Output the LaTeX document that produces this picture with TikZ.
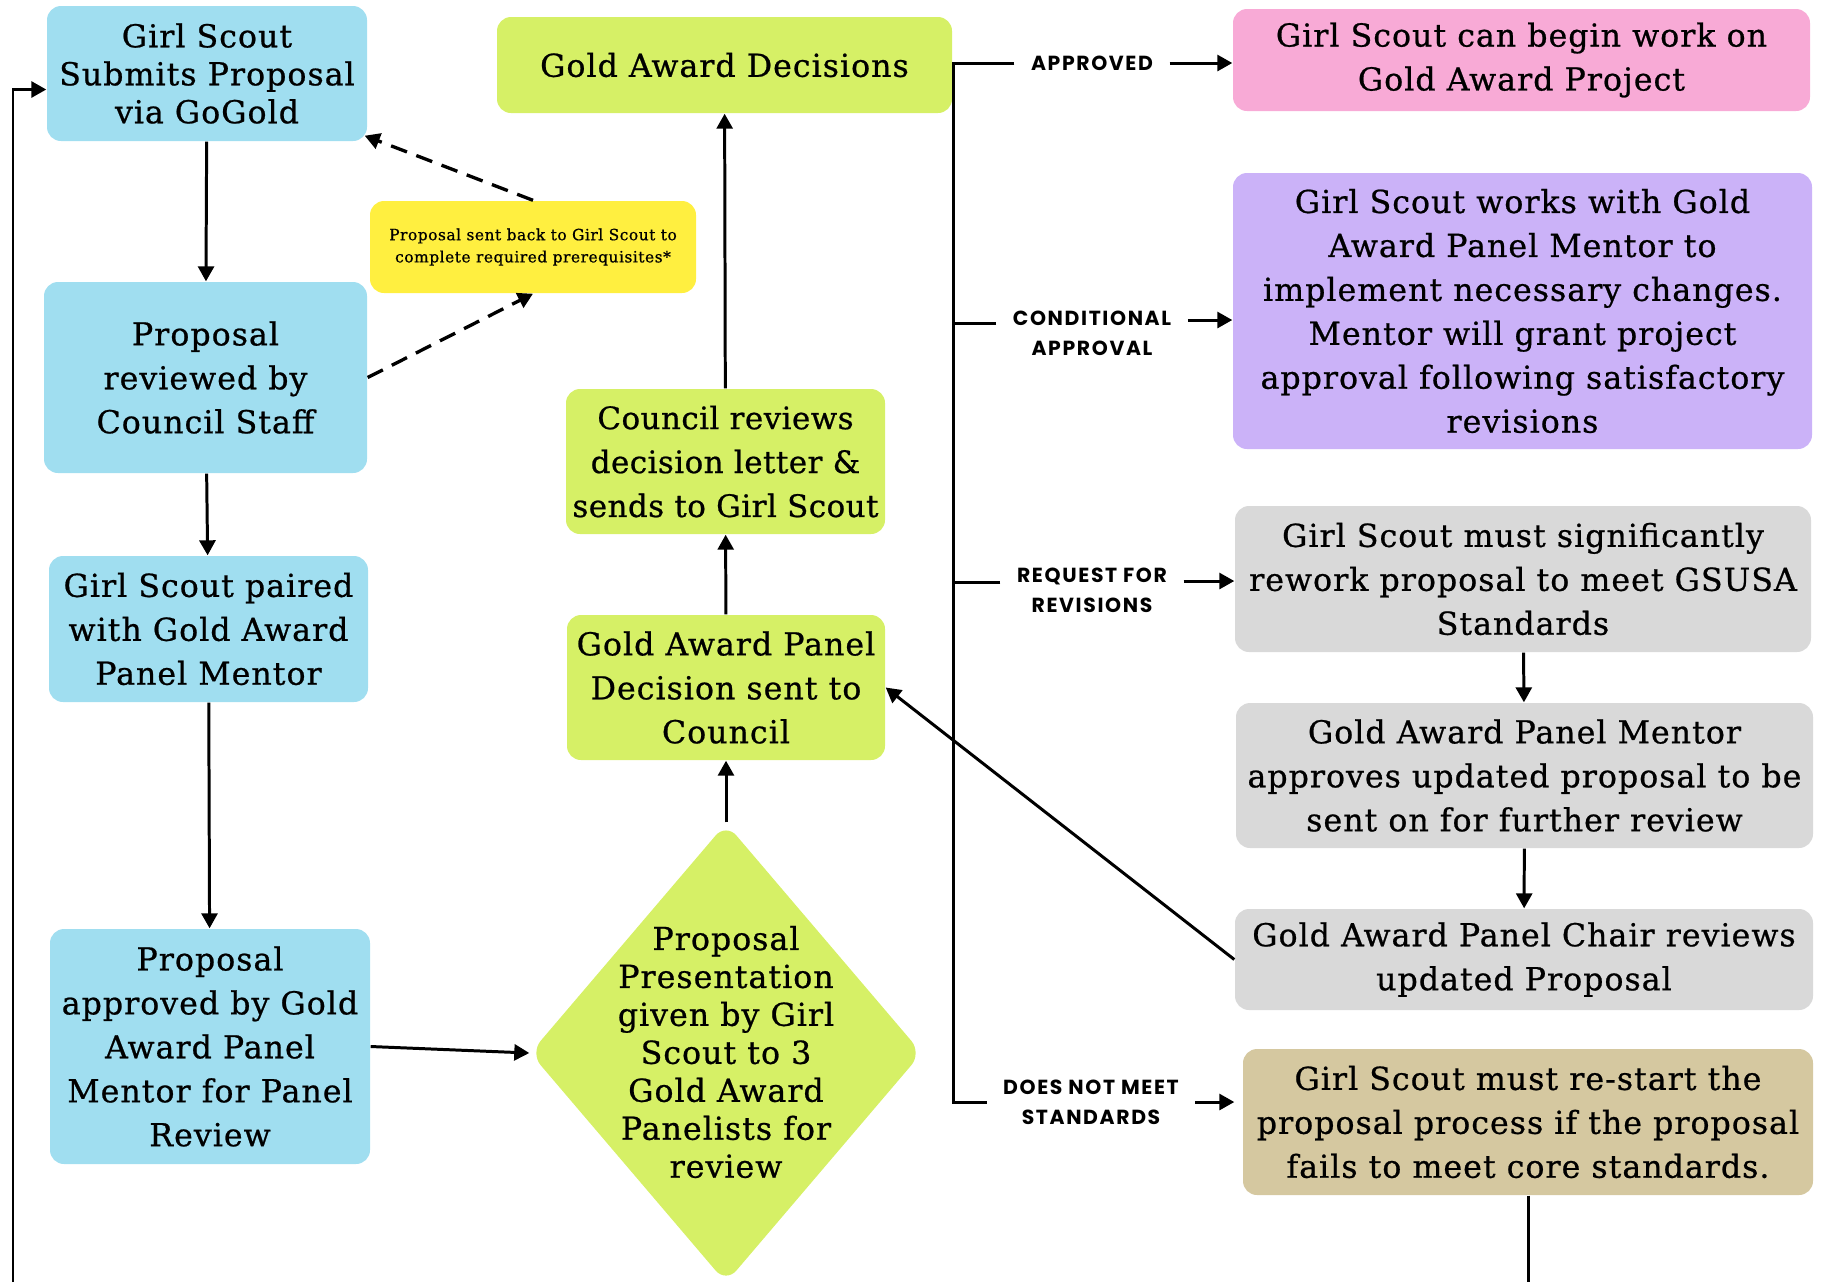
\documentclass[tikz,border=0pt]{standalone}
\usepackage{fontspec}
\setmainfont{DejaVu Serif}[LetterSpace=3.2, FakeBold=0.7]
\newfontfamily\tagfont{Poppins}[LetterSpace=8]
\usetikzlibrary{arrows.meta,shapes.geometric}
\definecolor{skyblue}{RGB}{160,222,240}
\definecolor{lime}{RGB}{214,240,102}
\definecolor{notey}{RGB}{255,239,64}
\definecolor{pinkbox}{RGB}{248,170,214}
\definecolor{lilac}{RGB}{203,178,248}
\definecolor{greybox}{RGB}{217,217,217}
\definecolor{tanbox}{RGB}{213,200,160}
\tikzset{
  stepbox/.style = {rounded corners=1.4mm, inner sep=0pt, align=center,
                    font=\fontsize{9}{12.5}\selectfont},
  bluebox/.style = {stepbox, fill=skyblue},
  limebox/.style = {stepbox, fill=lime},
  wire/.style    = {line width=0.85pt},
  arr/.style     = {wire, -{Triangle[length=1.5mm,width=1.6mm]}},
  dasharr/.style = {arr, line width=0.95pt, dash pattern=on 1.7mm off 1mm},
  tag/.style     = {inner xsep=1.6mm, inner ysep=0pt, align=center,
                    font=\tagfont\bfseries\fontsize{5.8}{8.5}\selectfont},
}
\begin{document}
\begin{tikzpicture}[x=0.1mm,y=-0.1mm]
  \useasboundingbox (0,0) rectangle (1825,1282);
  % left column
  \node[bluebox, minimum width=32mm, minimum height=13.5mm,
        font=\fontsize{9}{10.8}\selectfont] (submit) at (207,73.5)
        {Girl Scout\\Submits Proposal\\via GoGold};
  \node[bluebox, minimum width=32.3mm, minimum height=19.1mm] (review) at (205.5,377.5)
        {Proposal\\reviewed by\\Council Staff};
  \node[bluebox, minimum width=31.9mm, minimum height=14.6mm] (paired) at (208.5,629)
        {Girl Scout paired\\with Gold Award\\Panel Mentor};
  \node[bluebox, minimum width=32mm, minimum height=23.5mm] (mentor) at (210,1046.5)
        {Proposal\\approved by Gold\\Award Panel\\Mentor for Panel\\Review};
  \node[stepbox, fill=notey, minimum width=32.6mm, minimum height=9.2mm,
        font=\fontsize{4.4}{6.3}\selectfont] (note) at (533,247)
        {Proposal sent back to Girl Scout to\\complete required prerequisites*};
  % middle column
  \node[limebox, minimum width=45.5mm, minimum height=9.6mm] (decide) at (724.5,65)
        {Gold Award Decisions};
  \node[limebox, minimum width=31.9mm, minimum height=14.5mm,
        font=\fontsize{8.8}{12.5}\selectfont\addfontfeatures{LetterSpace=1.5}] (letter) at (725.5,461.5)
        {Council reviews\\decision letter \&\\sends to Girl Scout};
  \node[limebox, minimum width=31.8mm, minimum height=14.5mm] (panel) at (726,687.5)
        {Gold Award Panel\\Decision sent to\\Council};
  \node[diamond, fill=lime, rounded corners=1.6mm, inner sep=0pt,
        minimum width=39.2mm, minimum height=46mm] (pres) at (726,1053) {};
  \node[align=center, font=\fontsize{9}{10.8}\selectfont] (prestext) at (726,1052)
        {Proposal\\Presentation\\given by Girl\\Scout to 3\\Gold Award\\Panelists for\\review};
  % right column
  \node[stepbox, fill=pinkbox, minimum width=57.7mm, minimum height=10.2mm] (goahead) at (1521.5,60)
        {Girl Scout can begin work on\\Gold Award Project};
  \node[stepbox, fill=lilac, minimum width=57.9mm, minimum height=27.6mm] (changes) at (1522.5,311)
        {Girl Scout works with Gold\\Award Panel Mentor to\\implement necessary changes.\\
         Mentor will grant project\\approval following satisfactory\\revisions};
  \node[stepbox, fill=greybox, minimum width=57.6mm, minimum height=14.6mm] (rework) at (1523,579)
        {Girl Scout must significantly\\rework proposal to meet GSUSA\\Standards};
  \node[stepbox, fill=greybox, minimum width=57.7mm, minimum height=14.5mm] (updated) at (1524.5,775.5)
        {Gold Award Panel Mentor\\approves updated proposal to be\\sent on for further review};
  \node[stepbox, fill=greybox, minimum width=57.8mm, minimum height=10.1mm] (chair) at (1524,959.5)
        {Gold Award Panel Chair reviews\\updated Proposal};
  \node[stepbox, fill=tanbox, minimum width=57mm, minimum height=14.6mm] (restart) at (1528,1122)
        {Girl Scout must re-start the\\proposal process if the proposal\\fails to meet core standards.};
  % decision labels
  \node[tag] (lapp)  at (1092,63)   {APPROVED};
  \node[tag] (lcond) at (1092,333)  {CONDITIONAL\\APPROVAL};
  \node[tag] (lreq)  at (1092,590)  {REQUEST FOR\\REVISIONS};
  \node[tag] (ldnm)  at (1091,1102) {DOES NOT MEET\\STANDARDS};
  \coordinate (brTop) at (953,63);
  \coordinate (loopEnd) at (13,1282);
  \coordinate (tanEnd) at (1528,1282);

  % flow
  \draw[arr] (submit) -- (review);
  \draw[arr] (review) -- (paired);
  \draw[arr] (paired) -- (mentor);
  \draw[arr] (mentor.east) -- (pres.west);
  \draw[arr] (pres.north) -- (panel.south);
  \draw[arr] (panel) -- (letter);
  \draw[arr] (letter) -- (decide);
  \draw[dasharr] (note.north) -- ([xshift=-0.3mm,yshift=0.6mm]submit.south east);
  \draw[dasharr] (review.east) -- (note.south);
  \draw[arr] (loopEnd) |- ([yshift=-1.6mm]submit.west);
  % outcome bracket
  \draw[wire] (lapp.west) -- (brTop) -- (brTop |- ldnm.west) -- (ldnm.west);
  \draw[wire] ([yshift=1mm]lcond.west) -- ([yshift=1mm]lcond.west -| brTop);
  \draw[wire] ([yshift=0.8mm]lreq.west) -- ([yshift=0.8mm]lreq.west -| brTop);
  \draw[arr] (lapp.east) -- (lapp.east -| goahead.west);
  \draw[arr] ([yshift=1.3mm]lcond.east) -- ([yshift=1.3mm]lcond.east -| changes.west);
  \draw[arr] ([yshift=0.9mm]lreq.east) -- ([yshift=0.9mm]lreq.east -| rework.west);
  \draw[arr] (ldnm.east) -- (ldnm.east -| rework.west);
  % revision path
  \draw[arr] (rework) -- (updated);
  \draw[arr] (updated) -- (chair);
  \draw[arr] (chair.west) -- (panel.east);
  \draw[wire] (restart.south) -- (tanEnd);
\end{tikzpicture}
\end{document}
